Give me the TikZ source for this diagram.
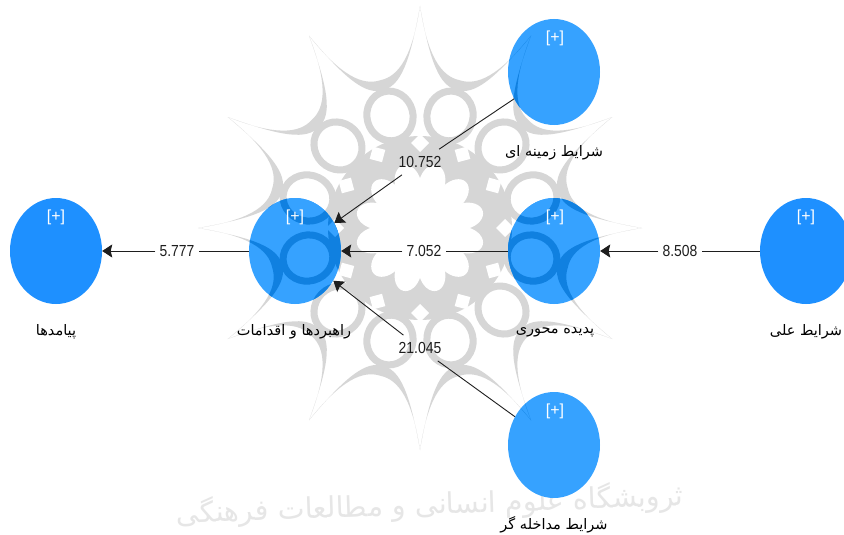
\documentclass[tikz,border=0pt]{standalone}
\usepackage{fontspec}
\usetikzlibrary{shapes.geometric,arrows.meta}
\setmainfont{Liberation Sans}
\newfontfamily\arabicfont[Script=Arabic]{DejaVu Sans}
\newfontfamily\numfont[FakeStretch=0.87]{Liberation Sans}
\TeXXeTstate=1
\definecolor{wash}{HTML}{36A2FF}
\definecolor{pure}{HTML}{1E90FF}
\definecolor{deep}{HTML}{1080E0}
\definecolor{wmgray}{HTML}{D6D6D6}
\definecolor{wmtext}{HTML}{E6E6E6}
\definecolor{ink}{HTML}{1E1E1E}
\newcommand{\wmark}[2]{%
  \begin{scope}[shift={(420,228)}]
    \foreach \a in {0,30,...,330}{
      \fill[#1] (\a:222) .. controls (\a+2.5:172) and (\a+8:153) .. (\a+15:153)
                .. controls (\a+22:153) and (\a+27.5:172) .. (\a+30:222)
                .. controls (\a+26.5:165) and (\a+22:143) .. (\a+15:143)
                .. controls (\a+8:143) and (\a+3.5:165) .. cycle;
    }
    \fill[#1] (0,0) circle[radius=92];
    \foreach \a in {0,30,...,330}{
      \draw[#1,line width=7pt,fill=#2,rotate=\a+15]
        (116,0) ellipse[x radius=25,y radius=23];
      \fill[#2,rotate=\a] (85,-9) -- (94,0) -- (85,9) -- (76,0) -- cycle;
      \fill[#2,rotate=\a+15] (46,0) ellipse[x radius=19,y radius=13];
    }
    \fill[#2] (0,0) circle[radius=46];
  \end{scope}%
}
\tikzset{
  construct/.style={ellipse,minimum width=92pt,minimum height=106pt,inner sep=0pt,draw=none},
  plusmark/.style={text=white,font=\fontsize{16}{16}\selectfont,inner sep=0pt},
  caption/.style={text=black,font=\arabicfont\fontsize{14.5}{15}\selectfont,inner sep=0pt},
  weight/.style={text=ink,font=\numfont\fontsize{16}{16}\selectfont,inner ysep=7pt,inner xsep=4pt},
  link/.style={draw=ink,line width=0.9pt},
  linkhead/.style={link,-{Stealth[length=10pt,width=13pt,inset=1.5pt]}},
  faint/.style={text=wmtext,font=\arabicfont\fontsize{28.5}{30}\selectfont,inner sep=0pt}
}
\begin{document}
\begin{tikzpicture}[x=1pt,y=-1pt]
\useasboundingbox (0,0) rectangle (844,535);
\fill[white] (0,0) rectangle (844,535);
\wmark{wmgray}{white}
\node[faint,rotate=2] (callig) at (430,505) {\beginR ثروبشگاه علوم انسانی و مطالعات فرهنگی\endR};

\node[construct,fill=pure] (payamad) at (56,251) {};
\node[construct,fill=wash] (rahbord) at (295,251) {};
\node[construct,fill=wash] (padide) at (554,251) {};
\node[construct,fill=pure] (elal) at (806,251) {};
\node[construct,fill=wash] (zamine) at (554,72) {};
\node[construct,fill=wash] (modakhele) at (554,445) {};

\foreach \n in {rahbord,padide,zamine,modakhele}{
  \begin{scope}
    \clip (\n.center) ellipse[x radius=46,y radius=53];
    \wmark{deep}{wash}
  \end{scope}
}

\node[plusmark] (plusa) at (56,217) {[+]};
\node[plusmark] (plusb) at (295,217) {[+]};
\node[plusmark] (plusc) at (555,217) {[+]};
\node[plusmark] (plusd) at (806,217) {[+]};
\node[plusmark] (pluse) at (555,38) {[+]};
\node[plusmark] (plusf) at (555,411) {[+]};

\node[caption] (capa) at (56,332) {\beginR پیامدها\endR};
\node[caption] (capb) at (294,332) {\beginR راهبردها و اقدامات\endR};
\node[caption] (capc) at (555,332) {\beginR پدیده محوری\endR};
\node[caption] (capd) at (806,332) {\beginR شرایط علی\endR};
\node[caption] (cape) at (554,153) {\beginR شرایط زمینه ای\endR};
\node[caption] (capf) at (554,525) {\beginR شرایط مداخله گر\endR};

\node[weight] (wa) at (177,251) {5.777};
\node[weight] (wb) at (424,251) {7.052};
\node[weight] (wc) at (680,251) {8.508};
\node[weight] (wd) at (420,162) {10.752};
\node[weight] (we) at (420,348) {21.045};

\draw[link] (rahbord) -- (wa);
\draw[linkhead] (wa) -- (payamad);
\draw[link] (padide) -- (wb);
\draw[linkhead] (wb) -- (rahbord);
\draw[link] (elal) -- (wc);
\draw[linkhead] (wc) -- (padide);
\draw[link] (zamine) -- (wd);
\draw[linkhead] (wd) -- (rahbord);
\draw[link] (modakhele) -- (we);
\draw[linkhead] (we) -- (rahbord);
\end{tikzpicture}
\end{document}
